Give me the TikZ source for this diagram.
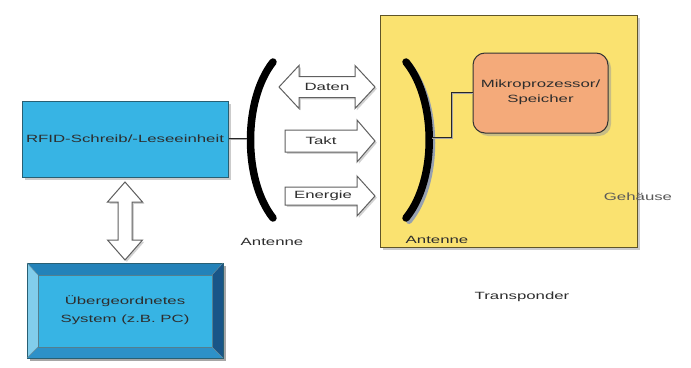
\documentclass[tikz,border=0pt]{standalone}
\usepackage{fontspec}
\setmainfont{Liberation Sans}
\usepackage{graphicx}
\usetikzlibrary{shadows}
\definecolor{rfidblue}{RGB}{55,180,228}
\definecolor{rfidborder}{RGB}{40,95,115}
\definecolor{ybox}{RGB}{250,226,112}
\definecolor{yborder}{RGB}{95,85,40}
\definecolor{mpfill}{RGB}{244,170,122}
\definecolor{txt}{RGB}{45,45,45}
\definecolor{bevtop}{RGB}{35,130,185}
\definecolor{bevleft}{RGB}{130,205,235}
\definecolor{bevright}{RGB}{25,85,135}
\definecolor{bevbot}{RGB}{45,145,200}
\definecolor{antshadow}{RGB}{150,160,175}
\newcommand\wt[1]{\scalebox{1.6}[1]{#1}}
\begin{document}
\begin{tikzpicture}[x=1pt,y=-1pt,
  lbl/.style={font=\fontsize{10.5}{12}\selectfont, text=txt, inner sep=0pt},
  blockarrow/.style={fill=white, draw=gray!75!black, line width=1pt,
    drop shadow={shadow xshift=1.8pt, shadow yshift=-1.8pt, fill=black!35}},
  boxshadow/.style={drop shadow={shadow xshift=3pt, shadow yshift=-3pt, fill=black!40}},
  antenna/.style={draw=black, line width=7.5pt, line cap=round},
  link/.style={draw=black!85, line width=0.8pt, double distance=0.9pt}]
\useasboundingbox (0,0) rectangle (691,367);
\fill[white] (0,0) rectangle (691,367);

% Transponder housing
\node[fill=ybox, draw=yborder, line width=1pt, boxshadow,
      minimum width=257pt, minimum height=232pt, inner sep=0pt] (tp) at (508.5,131) {};

% Microprocessor
\node[fill=mpfill, draw=black!80, line width=1pt, rounded corners=12pt, boxshadow,
      minimum width=135pt, minimum height=80pt, inner sep=0pt] (mp) at (540.5,93)
      {\fontsize{10.5}{12}\selectfont\color{txt}\wt{\begin{tabular}{@{}c@{}}Mikroprozessor/\\[3pt]Speicher\end{tabular}}};

% RFID reader
\node[fill=rfidblue, draw=rfidborder, line width=1pt, boxshadow,
      minimum width=206pt, minimum height=76pt, inner sep=0pt] (rfid) at (125,139)
      {\fontsize{10.5}{12}\selectfont\color{txt}\wt{RFID-Schreib/-Leseeinheit}};

% Superordinate system (bevelled box)
\fill[black!35] (30,266) rectangle (226,361);
\fill[bevtop] (27,263) -- (223,263) -- (212,275) -- (38,275) -- cycle;
\fill[bevleft] (27,263) -- (38,275) -- (38,347) -- (27,358) -- cycle;
\fill[bevright] (223,263) -- (223,358) -- (212,347) -- (212,275) -- cycle;
\fill[bevbot] (27,358) -- (38,347) -- (212,347) -- (223,358) -- cycle;
\node[fill=rfidblue, draw=rfidborder!80, line width=0.5pt,
      minimum width=174pt, minimum height=72pt, inner sep=0pt] (sys) at (125,311)
      {\fontsize{10.5}{12}\selectfont\color{txt}\wt{\begin{tabular}{@{}c@{}}Übergeordnetes\\[6pt]System (z.B. PC)\end{tabular}}};
\draw[rfidborder, line width=0.8pt] (27,263) rectangle (223,358);
\draw[rfidborder!70, line width=0.4pt] (27,263) -- (38,275) (223,263) -- (212,275)
      (27,358) -- (38,347) (223,358) -- (212,347);

% vertical double arrow between reader and system
\path[blockarrow] (125,182) -- (142.5,202) -- (132,202) -- (132,240) -- (142.5,240)
   -- (125,260) -- (107.5,240) -- (118,240) -- (118,202) -- (107.5,202) -- cycle;

% Left antenna
\draw[antenna] (273,62) .. controls (243,100) and (243,180) .. (273,218);
\coordinate (antL) at (247,139);
\node[lbl] (antLlbl) at (272,242) {\wt{Antenne}};

% Right antenna
\draw[antenna, draw=antshadow, line width=6pt] (409,65) .. controls (440,103) and (440,183) .. (409,221);
\draw[antenna] (406,62) .. controls (437,100) and (437,180) .. (406,218);
\coordinate (antR) at (432,138);
\node[lbl] (antRlbl) at (437,240) {\wt{Antenne}};

% connectors
\draw[link, double=black!35] (rfid.east |- antL) -- (antL);
\draw[link, double=black!35] (antR) -- (452,138) |- (mp.west);

% Data / clock / energy arrows
\path[blockarrow] (279,87) -- (299,65.5) -- (299,76.5) -- (355,76.5) -- (355,65.5)
   -- (375,87) -- (355,108.5) -- (355,97.5) -- (299,97.5) -- (299,108.5) -- cycle;
\node[lbl] (daten) at (327,87) {\wt{Daten}};
\path[blockarrow] (285,130) -- (357,130) -- (357,120) -- (375,141) -- (357,162)
   -- (357,152) -- (285,152) -- cycle;
\node[lbl] (takt) at (321,141) {\wt{Takt}};
\path[blockarrow] (285,187) -- (357,187) -- (357,176) -- (375,196) -- (357,216)
   -- (357,205) -- (285,205) -- cycle;
\node[lbl] (energie) at (323,196) {\wt{Energie}};

% labels
\node[lbl, text=black!65] (gehaeuse) at (638,197) {\wt{Gehäuse}};
\node[lbl] (transponder) at (522,297) {\wt{Transponder}};
\end{tikzpicture}
\end{document}
